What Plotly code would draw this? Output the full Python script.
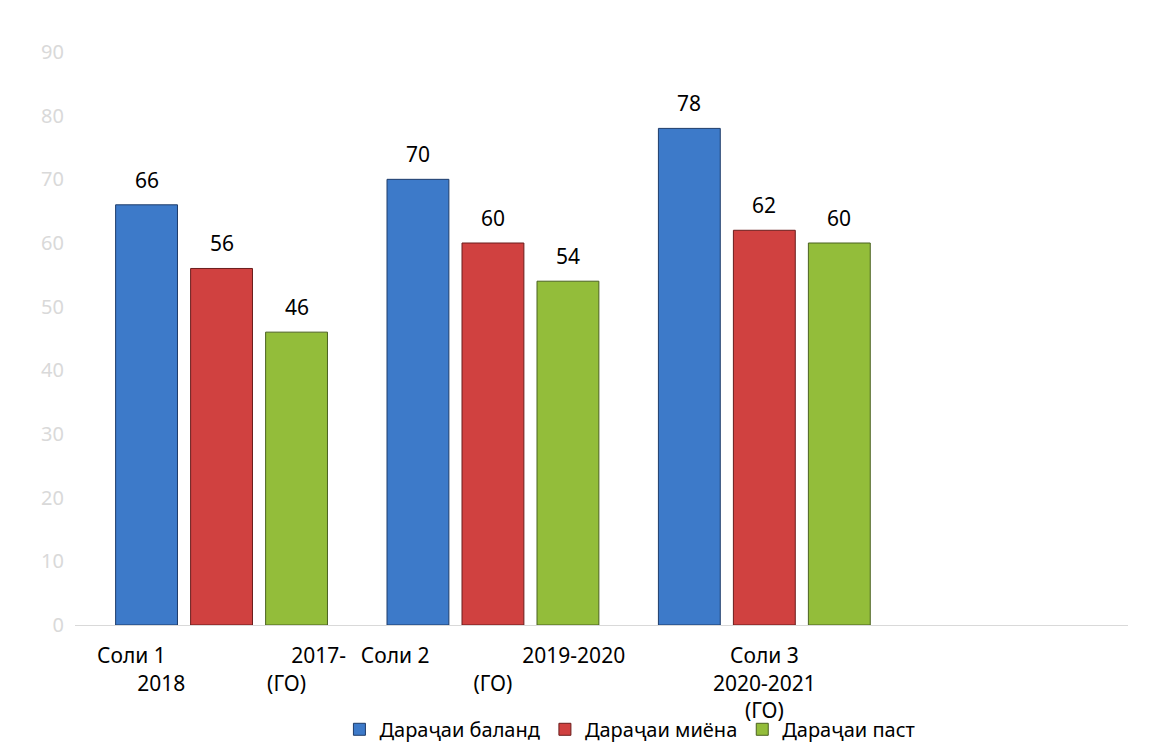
import plotly.graph_objects as go

categories = ["Соли 1 2017-2018 (ГО)", "Соли 2 2019-2020 (ГО)", "Соли 3 2020-2021 (ГО)"]
tick_labels = [
    "Соли 1" + "&nbsp;" * 23 + "2017-<br>2018" + "&nbsp;" * 15 + "(ГО)",
    "Соли 2" + "&nbsp;" * 17 + "2019-2020<br>(ГО)",
    "Соли 3<br>2020-2021<br>(ГО)",
]
series_names = ["Дараҷаи баланд", "Дараҷаи миёна", "Дараҷаи паст"]
high = [66, 70, 78]
mid = [56, 60, 62]
low = [46, 54, 60]
series_values = [high, mid, low]
fills = ["#3d7ac9", "#d04140", "#93bd3a"]
edges = ["#1e3c6a", "#6a1d1c", "#4b6220"]

FONT = "Noto Sans"
bargap = 0.171
slot = (1 - bargap) / 3

fig = go.Figure()
annotations = []
for i, (name, vals) in enumerate(zip(series_names, series_values)):
    fig.add_trace(go.Bar(
        name=name,
        x=list(range(len(categories))),
        y=vals,
        marker=dict(color=fills[i], line=dict(color=edges[i], width=1)),
    ))
    for j, v in enumerate(vals):
        annotations.append(dict(
            x=j + (i - 1) * slot, y=v, xref="x", yref="y",
            text=str(v), showarrow=False, yshift=25,
            font=dict(family=FONT, size=21, color="#000000"),
        ))

fig.update_layout(
    width=1148, height=737,
    margin=dict(l=67, r=28, t=44, b=120, autoexpand=False),
    paper_bgcolor="white", plot_bgcolor="white",
    barmode="group", bargap=bargap, bargroupgap=0.175,
    annotations=annotations,
    font=dict(family=FONT, size=21, color="#000000"),
    showlegend=True,
    legend=dict(
        orientation="h", x=0.527, xanchor="center", y=-0.182, yanchor="middle",
        font=dict(family=FONT, size=20, color="#000000"),
        bgcolor="rgba(0,0,0,0)",
        itemwidth=30, tracegroupgap=0,
    ),
)
fig.update_xaxes(
    tickmode="array", tickvals=list(range(len(categories))), ticktext=tick_labels,
    range=[-0.54, 3.34], showline=True, linecolor="#d9d9d9", linewidth=1,
    showgrid=False, zeroline=False, ticks="", ticklabelstandoff=12, automargin=False,
    tickfont=dict(family=FONT, size=21, color="#000000"),
)
fig.update_yaxes(
    range=[0, 90], dtick=10, showgrid=False, zeroline=False, showline=False,
    ticks="", ticklabelstandoff=10, automargin=False,
    tickfont=dict(family=FONT, size=20, color="#d9d9d9"),
)

fig.write_html("out.html")
